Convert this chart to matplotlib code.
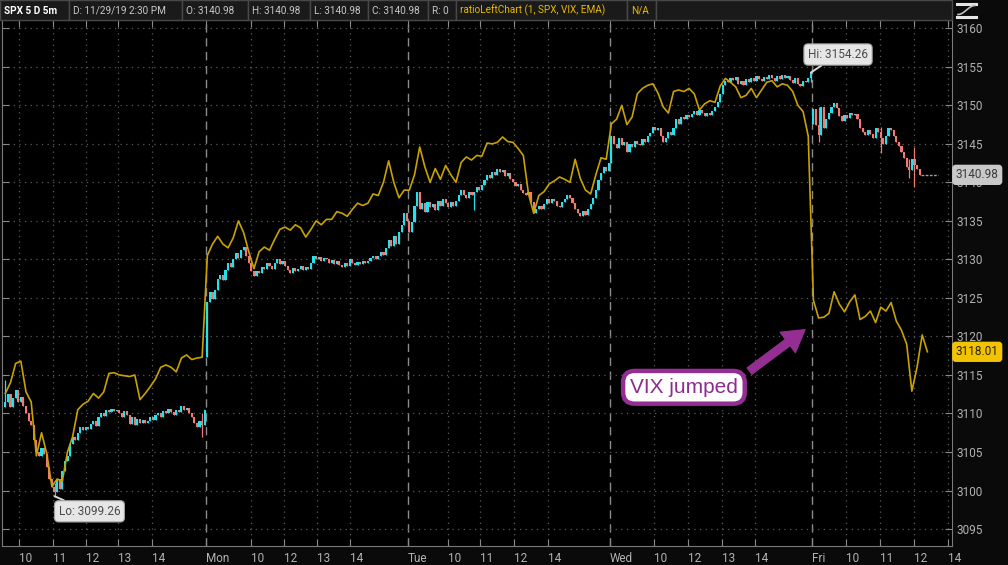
import numpy as np
import matplotlib.pyplot as plt
from matplotlib import font_manager
from matplotlib.patches import Rectangle, FancyArrowPatch
from matplotlib.lines import Line2D

# SPX 5-minute closes, one list per session (Fri 11/22, Mon, Tue, Wed, Fri 11/29)
day1 = [3111.5, 3112.5, 3110.8, 3112.0, 3113.0, 3111.5,
        3112.2, 3111.0, 3110.0, 3109.0, 3108.5,
        3106.5, 3105.0, 3104.5, 3105.5, 3104.8,
        3103.0, 3101.5, 3100.5, 3099.8, 3101.5,
        3100.2, 3102.5, 3103.8, 3104.5, 3106.0,
        3107.0, 3106.5, 3107.5, 3108.2, 3107.8,
        3108.3, 3108.0, 3108.6, 3109.0, 3108.4,
        3109.5, 3110.0, 3109.7, 3110.5, 3110.2,
        3110.6, 3110.3, 3110.5, 3110.0, 3109.5,
        3110.3, 3109.8, 3108.6, 3109.5, 3108.5,
        3109.3, 3108.8, 3109.2, 3108.8, 3109.0,
        3109.5, 3109.2, 3109.8, 3110.0, 3109.5,
        3110.3, 3110.0, 3110.6, 3110.2, 3109.8,
        3110.5, 3110.2, 3111.0, 3110.4, 3110.7,
        3110.0, 3109.5, 3108.8, 3108.2, 3109.0,
        3108.5, 3110.5]
day2 = [3124.5, 3125.8, 3124.8, 3126.0, 3127.5,
        3128.0, 3127.3, 3128.6, 3129.5, 3129.0,
        3130.0, 3130.8, 3130.2, 3131.2, 3131.6,
        3130.5, 3129.5, 3128.5, 3127.8, 3128.5,
        3128.2, 3129.0, 3128.8, 3129.6, 3129.2,
        3128.8, 3129.5, 3130.0, 3129.4, 3129.8,
        3129.2, 3128.6, 3128.3, 3128.9, 3128.5,
        3128.8, 3129.2, 3128.6, 3129.0, 3128.7,
        3129.5, 3130.5, 3130.0, 3130.3, 3129.8,
        3130.2, 3130.0, 3129.6, 3129.9, 3129.4,
        3129.8, 3129.3, 3129.0, 3129.5, 3129.2,
        3130.0, 3129.6, 3129.3, 3129.7, 3129.4,
        3129.8, 3129.5, 3129.8, 3130.2, 3130.5,
        3130.0, 3130.5, 3131.0, 3130.6, 3131.5,
        3132.5, 3131.8, 3133.0, 3132.0, 3133.5,
        3134.5, 3136.0, 3135.0]
day3 = [3133.5, 3134.8, 3137.0, 3138.8, 3136.5,
        3137.3, 3136.2, 3137.5, 3136.8, 3137.2,
        3136.4, 3137.6, 3137.0, 3137.8, 3137.3,
        3136.8, 3137.4, 3137.0, 3137.6, 3138.3,
        3139.0, 3138.4, 3138.0, 3138.8, 3138.3,
        3138.7, 3139.4, 3139.0, 3139.6, 3140.3,
        3141.0, 3140.6, 3141.4, 3141.0, 3141.8,
        3141.3, 3141.6, 3140.8, 3141.2, 3140.4,
        3140.0, 3139.5, 3139.8, 3139.0, 3138.6,
        3138.3, 3138.8, 3137.5, 3136.0, 3136.5,
        3137.0, 3136.6, 3137.2, 3137.8, 3137.3,
        3137.8, 3137.6, 3137.0, 3136.8, 3137.4,
        3137.9, 3138.3, 3138.0, 3137.3, 3136.6,
        3136.0, 3135.6, 3136.3, 3135.8, 3136.5,
        3137.2, 3138.0, 3139.0, 3140.3, 3141.2,
        3142.0, 3141.5, 3142.5]
day4 = [3146.0, 3145.0, 3144.5, 3145.8, 3144.8,
        3145.3, 3144.0, 3145.0, 3144.6, 3145.4,
        3145.0, 3144.8, 3145.6, 3145.2, 3146.0,
        3146.4, 3147.2, 3146.8, 3147.0, 3146.0,
        3145.3, 3145.8, 3146.6, 3146.2, 3147.0,
        3148.2, 3147.6, 3148.5, 3148.2, 3148.8,
        3148.5, 3148.9, 3149.3, 3148.8, 3149.4,
        3149.0, 3148.6, 3149.0, 3148.7, 3149.3,
        3149.8, 3150.5, 3151.5, 3152.6, 3153.2,
        3153.0, 3153.6, 3153.3, 3153.7, 3152.8,
        3153.2, 3152.6, 3153.4, 3153.0, 3153.5,
        3153.2, 3153.8, 3153.4, 3153.1, 3153.7,
        3153.4, 3153.9, 3153.5, 3153.2, 3153.8,
        3153.4, 3154.0, 3153.5, 3153.8, 3153.3,
        3152.9, 3153.5, 3152.8, 3152.5, 3153.2,
        3153.0, 3153.6, 3154.2]
day5 = [3149.5, 3147.5, 3146.2, 3149.8, 3147.0,
        3148.2, 3149.0, 3149.8, 3150.3, 3149.6,
        3148.6, 3148.0, 3148.8, 3148.3, 3149.0,
        3148.7, 3148.9, 3148.2, 3147.0, 3146.5,
        3146.2, 3146.8, 3146.3, 3145.8, 3147.0,
        3146.6, 3145.8, 3145.0, 3146.0, 3147.0,
        3146.8, 3146.0, 3145.3, 3144.7, 3144.0,
        3143.2, 3142.0, 3141.6, 3143.0, 3142.2,
        3141.8, 3140.98]

# opens that differ from the previous close (session gaps)
gap_opens = {0: 3110.8, 78: 3117.3, 312: 3147.6}
# bars with visible wicks: bar -> (high, low)
wicks = {0: (3114.3, 3110.8), 19: (3101.0, 3099.26), 76: (3110.0, 3107.0),
         181: (3138.6, 3136.4), 311: (3154.26, 3153.0), 314: (3149.8, 3145.2),
         338: (3147.2, 3143.8), 349: (3143.0, 3140.6), 351: (3144.6, 3139.4)}

# ratioLeftChart (SPX/VIX EMA) line, read every second bar, in price-axis units
ratio1 = [3112.6, 3114.0, 3116.5, 3116.8, 3112.8, 3111.5, 3104.5, 3107.5, 3104.8, 3100.5,
          3101.5, 3101.2, 3105.0, 3107.0, 3110.5, 3111.2, 3111.6, 3112.6, 3112.0, 3112.8,
          3115.2, 3115.3, 3115.0, 3114.9, 3114.8, 3115.0, 3111.8, 3112.6, 3113.5, 3114.5,
          3116.0, 3116.3, 3116.0, 3115.4, 3117.2, 3117.6, 3117.0, 3117.2, 3117.3]
ratio2 = [3130.5, 3132.0, 3133.0, 3132.0, 3131.5, 3132.8, 3135.0, 3133.5, 3131.0, 3128.8,
          3131.0, 3131.6, 3131.2, 3132.6, 3133.9, 3134.2, 3133.8, 3134.5, 3134.1, 3132.9,
          3133.9, 3135.0, 3134.5, 3135.2, 3135.2, 3136.2, 3136.0, 3135.6, 3136.5, 3137.3,
          3137.0, 3137.3, 3138.5, 3138.3, 3140.0, 3142.8, 3140.0, 3138.0, 3139.0]
ratio3 = [3139.0, 3141.0, 3144.6, 3142.0, 3140.0, 3141.8, 3140.4, 3142.2, 3141.0, 3140.0,
          3142.6, 3143.3, 3142.9, 3143.5, 3143.4, 3145.1, 3145.0, 3145.2, 3145.9, 3145.3,
          3145.2, 3144.4, 3143.5, 3138.5, 3136.0, 3138.3, 3138.8, 3139.8, 3140.2, 3140.7,
          3140.4, 3140.0, 3143.0, 3140.5, 3139.0, 3138.5, 3141.0, 3143.2, 3143.0]
ratio4 = [3147.6, 3148.2, 3150.0, 3147.5, 3148.5, 3151.5, 3152.2, 3152.6, 3152.8, 3151.6,
          3149.8, 3149.0, 3151.8, 3152.0, 3151.8, 3152.2, 3151.5, 3149.4, 3150.2, 3150.6,
          3150.4, 3152.5, 3153.5, 3153.0, 3152.4, 3151.0, 3151.3, 3152.2, 3151.0, 3152.0,
          3153.0, 3153.2, 3152.4, 3152.8, 3152.6, 3151.8, 3150.0, 3149.2, 3146.0]
ratio5 = [3124.7, 3122.4, 3122.5, 3123.0, 3125.8, 3124.2, 3123.2, 3124.5, 3125.4, 3122.2,
          3122.6, 3123.3, 3121.8, 3123.8, 3123.3, 3124.4, 3122.0, 3120.8, 3119.0, 3112.9,
          3116.0, 3120.2, 3118.01]

tick_pos = [5.4, 18.5, 31.2, 43.6, 56.5, 77.5, 94.9, 107.6, 120.3, 133.1,
            155.5, 170.9, 183.3, 196.4, 209.5, 233.5, 250.5, 263.6, 276.8, 289.5,
            311.5, 324.6, 337.7, 350.9, 364.0]
tick_lbl = ['10', '11', '12', '13', '14', 'Mon', '10', '12', '13', '14',
            'Tue', '10', '11', '12', '14', 'Wed', '10', '12', '13', '14',
            'Fri', '10', '11', '12', '14']
day_names = ['Mon', 'Tue', 'Wed', 'Fri']
header = ['SPX 5 D 5m', 'D: 11/29/19 2:30 PM', 'O: 3140.98', 'H: 3140.98',
          'L: 3140.98', 'C: 3140.98', 'R: 0', 'ratioLeftChart (1, SPX, VIX, EMA)', 'N/A']

names = {f.name for f in font_manager.fontManager.ttflist}
narrow = 'Liberation Sans Narrow' if 'Liberation Sans Narrow' in names else 'Roboto'
plt.rcParams['font.family'] = [narrow, 'DejaVu Sans']
head_size = 9 if narrow == 'Liberation Sans Narrow' else 7.2

UP = '#1fe4f0'
DOWN = '#f27a72'
GOLD = '#c9a200'
GRAY_TXT = '#b2b2b2'

closes = np.array(day1 + day2 + day3 + day4 + day5)
n = len(closes)
x = np.arange(n)
opens = np.roll(closes, 1)
for k, v in gap_opens.items():
    opens[k] = v
highs = np.maximum(opens, closes)
lows = np.minimum(opens, closes)
for k, (h, l) in wicks.items():
    highs[k] = max(highs[k], h)
    lows[k] = min(lows[k], l)
up = closes >= opens
colors = np.where(up, UP, DOWN)

ratio = np.array(ratio1 + ratio2 + ratio3 + ratio4 + ratio5)
rx = np.arange(len(ratio)) * 2

W, H = 1008, 565
fig = plt.figure(figsize=(W / 100, H / 100), dpi=100, facecolor='#0a0a0a')
ax = fig.add_axes([2 / W, 19 / H, 950 / W, 526 / H], facecolor='black')
ax.set_xlim(-1.27, 365.5)
ax.set_ylim(3092.8, 3161.08)

# grid
ax.set_yticks(np.arange(3095, 3161, 5))
ax.grid(axis='y', color='#5a5a5a', linestyle=(0, (1, 3.5)), linewidth=0.9)
for p, lb in zip(tick_pos, tick_lbl):
    if lb in day_names:
        ax.axvline(p, color='#8c8c8c', linestyle=(0, (6, 4)), linewidth=1.0, zorder=1)
    else:
        ax.axvline(p, color='#5a5a5a', linestyle=(0, (1, 3.5)), linewidth=0.9, zorder=1)

# candles
body_h = np.maximum(np.abs(closes - opens), 0.2)
ax.vlines(x, lows, highs, colors=colors, linewidth=0.9, zorder=2)
ax.bar(x, body_h, bottom=np.minimum(opens, closes), width=0.82, color=colors,
       linewidth=0, zorder=2)

# ratio line
ax.plot(rx, ratio, color=GOLD, linewidth=1.2, zorder=3)

# last price line
ax.hlines(closes[-1], n - 0.5, n + 6, colors='#9c9c9c', linestyles=(0, (2, 1)),
          linewidth=1, zorder=2)

# axes styling
for s in ax.spines.values():
    s.set_color('#7a7a7a')
ax.yaxis.tick_right()
ax.tick_params(axis='y', left=True, right=True, labelleft=False, labelright=True,
               direction='in', length=5, color='#8a8a8a', labelcolor=GRAY_TXT,
               labelsize=8.5, pad=3)
ax.set_xticks(tick_pos)
ax.set_xticklabels(tick_lbl, ha='left')
ax.tick_params(axis='x', top=True, bottom=True, direction='in', length=5,
               color='#8a8a8a', labelcolor=GRAY_TXT, labelsize=8.5, pad=4)

# price tags on the right axis
yt = ax.get_yaxis_transform()
ax.text(1.004, closes[-1], f'{closes[-1]:.2f}', transform=yt, ha='left', va='center',
        fontsize=8.5, color='#3a3a3a', clip_on=False, zorder=6,
        bbox=dict(boxstyle='round,pad=0.25', fc='#c9c9c9', ec='#c9c9c9'))
ax.text(1.004, ratio[-1], f'{ratio[-1]:.2f}', transform=yt, ha='left', va='center',
        fontsize=8.5, color='#2a2000', clip_on=False, zorder=6,
        bbox=dict(boxstyle='round,pad=0.25', fc='#f2c400', ec='#f2c400'))

# Lo / Hi bubbles
lo_i = int(np.argmin(lows))
hi_i = int(np.argmax(highs))
bubble = dict(boxstyle='round,pad=0.35', fc='#e6e6e6', ec='#a0a0a0', lw=0.8)
ax.annotate(f'Lo: {lows[lo_i]:.2f}', xy=(lo_i, lows[lo_i]), xytext=(32.5, 3097.3),
            ha='center', va='center', fontsize=8.5, color='#4a4a4a', bbox=bubble,
            arrowprops=dict(arrowstyle='-', color='#d8d8d8', lw=1.4,
                            shrinkA=0, shrinkB=0), zorder=6)
ax.annotate(f'Hi: {highs[hi_i]:.2f}', xy=(hi_i, highs[hi_i]), xytext=(321.5, 3156.6),
            ha='center', va='center', fontsize=8.5, color='#4a4a4a', bbox=bubble,
            arrowprops=dict(arrowstyle='-', color='#d8d8d8', lw=1.4,
                            shrinkA=0, shrinkB=0), zorder=6)

# "VIX jumped" callout
PURPLE = '#942e93'
arrow = FancyArrowPatch((286.5, 3115.3), (309.6, 3121.1),
                        arrowstyle='simple,head_length=1.1,head_width=1.3,tail_width=0.4',
                        mutation_scale=14, color=PURPLE, zorder=6)
ax.add_patch(arrow)
ax.text(262, 3113.4, 'VIX jumped', ha='center', va='center', fontsize=15,
        color='#8e2b8e', family=['Liberation Sans', 'DejaVu Sans'], zorder=7,
        bbox=dict(boxstyle='round,pad=0.33,rounding_size=0.55', fc='white',
                  ec=PURPLE, lw=3.2))

# header strip
edges = [0, 69, 182, 248, 310, 368, 428, 456, 627, 656, 952]
for i in range(len(edges) - 1):
    x0, x1 = edges[i], edges[i + 1]
    fig.add_artist(Rectangle((x0 / W, 1 - 20 / H), (x1 - x0) / W, 20 / H,
                             transform=fig.transFigure, fc='#1a1a1a', ec='#484848', lw=1))
for i, t in enumerate(header):
    gold = i >= 7
    fig.text((edges[i] + 4) / W, 1 - 10.5 / H, t, ha='left', va='center',
             fontsize=head_size,
             color='#e8b800' if gold else ('white' if i == 0 else '#c8c8c8'),
             fontweight='bold' if i == 0 else 'normal')

# small curve icon in the corner
def px(a, b):
    return a / W, 1 - b / H
for yy in (3.5, 16.5):
    fig.add_artist(Line2D(*zip(px(957, yy), px(976, yy)), color='#e6e6e6', lw=2.2))
cx = np.linspace(958, 975, 20)
cy = 10 + 4.5 * np.cos((cx - 958) / 17 * np.pi)
fig.add_artist(Line2D(cx / W, 1 - cy / H, color='#bdbdbd', lw=1.2))

fig.savefig('out.png', dpi=100, facecolor=fig.get_facecolor())
